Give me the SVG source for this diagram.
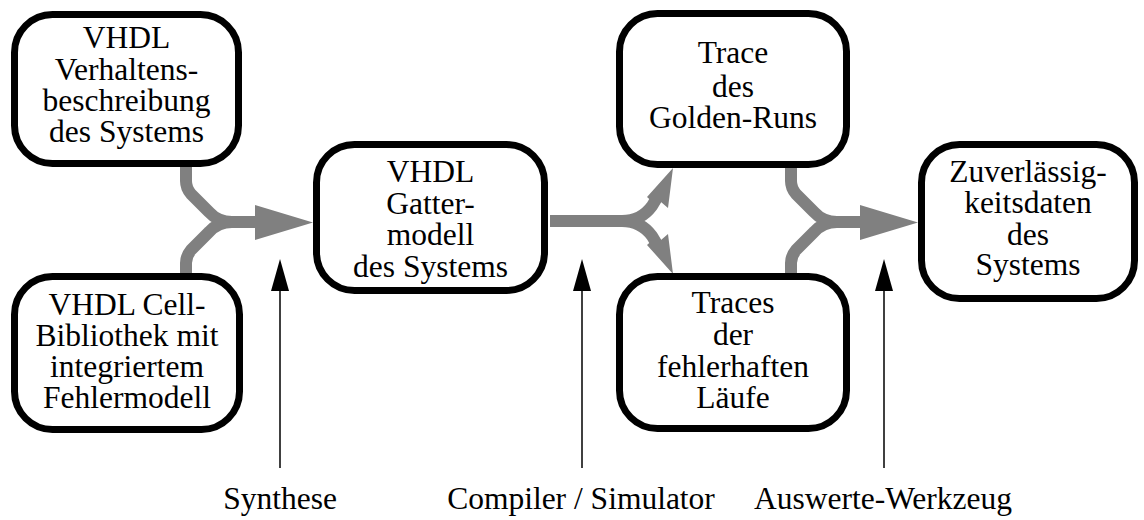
<svg xmlns="http://www.w3.org/2000/svg" width="1144" height="520" viewBox="0 0 1144 520">
  <style>
    .box { fill: #ffffff; stroke: #000000; stroke-width: 7; }
    .lbl { font-family: "Liberation Serif", "Times New Roman", serif; font-size: 31.5px; fill: #000000; text-anchor: middle; }
    .flow { fill: none; stroke: #808080; stroke-width: 12; stroke-linejoin: round; }
    .head { fill: #808080; stroke: none; }
    .tool { stroke: #000000; stroke-width: 1.5; fill: none; }
    .toolhead { fill: #000000; stroke: none; }
  </style>

  <rect width="1144" height="520" fill="#ffffff"/>

  <!-- connectors -->
  <g id="connectors">
    <!-- merge into the gate model (Synthese) -->
    <path class="flow" d="M186,166 V181 Q186,188 191,194 L209,212 Q218,222 232,222 H262"/>
    <path class="flow" d="M186,275 V263 Q186,256 191,250 L209,232 Q218,222 232,222"/>
    <polygon class="head" points="255,205 313,222.5 255,240"/>

    <!-- fork to golden run and faulty runs -->
    <path class="flow" d="M550,221 H622 Q641,221 652,206 L658,196"/>
    <path class="flow" d="M622,221 Q641,221 652,236 L658,246"/>
    <polygon class="head" points="673,168 668,208 661,202 656,205 647,197"/>
    <polygon class="head" points="673,274 668,234 661,240 656,237 647,245"/>

    <!-- merge into reliability data -->
    <path class="flow" d="M791,166 V181 Q791,188 796,194 L814,212 Q823,222 837,222 H867"/>
    <path class="flow" d="M791,275 V263 Q791,256 796,250 L814,232 Q823,222 837,222"/>
    <polygon class="head" points="860,205 918,222.5 860,240"/>

    <!-- tool arrows -->
    <line class="tool" x1="280" y1="468" x2="280" y2="285"/>
    <polygon class="toolhead" points="280,259 289,291 271,291"/>
    <line class="tool" x1="582" y1="468" x2="582" y2="285"/>
    <polygon class="toolhead" points="582,259 591,291 573,291"/>
    <line class="tool" x1="884" y1="468" x2="884" y2="285"/>
    <polygon class="toolhead" points="884,259 893,291 875,291"/>
  </g>

  <g id="node-verhalten">
    <rect class="box" x="14.5" y="14.5" width="224" height="149" rx="38"/>
    <text class="lbl" x="126.5" y="48">VHDL</text>
    <text class="lbl" x="126.5" y="80">Verhaltens-</text>
    <text class="lbl" x="126.5" y="111">beschreibung</text>
    <text class="lbl" x="126.5" y="142">des Systems</text>
  </g>

  <g id="node-cell">
    <rect class="box" x="14.5" y="276.5" width="225" height="153" rx="38"/>
    <text class="lbl" x="127" y="315">VHDL Cell-</text>
    <text class="lbl" x="127" y="346">Bibliothek mit</text>
    <text class="lbl" x="127" y="377">integriertem</text>
    <text class="lbl" x="127" y="408">Fehlermodell</text>
  </g>

  <g id="node-gatter">
    <rect class="box" x="316.5" y="144.5" width="228" height="146" rx="38"/>
    <text class="lbl" x="430.5" y="182">VHDL</text>
    <text class="lbl" x="430.5" y="214">Gatter-</text>
    <text class="lbl" x="430.5" y="245">modell</text>
    <text class="lbl" x="430.5" y="277">des Systems</text>
  </g>

  <g id="node-golden">
    <rect class="box" x="619.5" y="13.5" width="227" height="151" rx="38"/>
    <text class="lbl" x="733" y="63">Trace</text>
    <text class="lbl" x="733" y="97">des</text>
    <text class="lbl" x="733" y="128">Golden-Runs</text>
  </g>

  <g id="node-faulty">
    <rect class="box" x="619.5" y="276.5" width="227" height="152" rx="38"/>
    <text class="lbl" x="733" y="313">Traces</text>
    <text class="lbl" x="733" y="345">der</text>
    <text class="lbl" x="733" y="377">fehlerhaften</text>
    <text class="lbl" x="733" y="408">Läufe</text>
  </g>

  <g id="node-reliability">
    <rect class="box" x="921.5" y="144.5" width="213" height="154" rx="38"/>
    <text class="lbl" x="1028" y="182">Zuverlässig-</text>
    <text class="lbl" x="1028" y="213">keitsdaten</text>
    <text class="lbl" x="1028" y="245">des</text>
    <text class="lbl" x="1028" y="275">Systems</text>
  </g>

  <g id="tool-labels">
    <text class="lbl" x="280" y="509">Synthese</text>
    <text class="lbl" x="581" y="509">Compiler / Simulator</text>
    <text class="lbl" x="883" y="509">Auswerte-Werkzeug</text>
  </g>
</svg>
